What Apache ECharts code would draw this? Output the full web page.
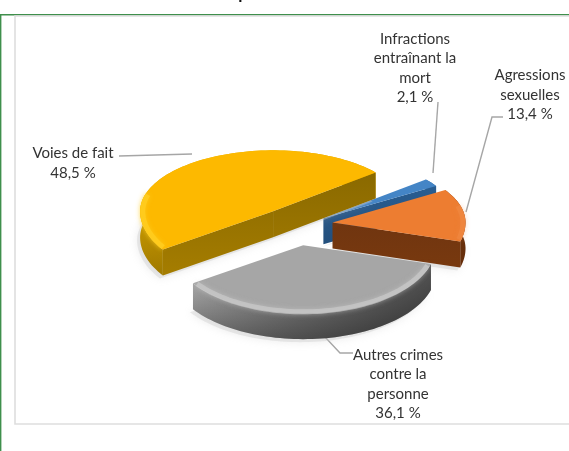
<!DOCTYPE html>
<html><head><meta charset="utf-8">
<style>html,body{margin:0;padding:0;background:#fff}#c{width:569px;height:451px;filter:blur(0.5px)}</style>
<script src="https://cdn.jsdelivr.net/npm/echarts@6/dist/echarts.min.js"></script>
</head><body><div id="c"></div>
<script>
const categories = ['Voies de fait', 'Autres crimes\ncontre la\npersonne', 'Agressions\nsexuelles', 'Infractions\nentraînant la\nmort'];
const values = [48.5, 36.1, 13.4, 2.1];

const center = [295, 224], RX = 133, RB = 61, RF = 68, EXPLODE = 0.3, DEPTH = 26, START = 39.6;
const total = values.reduce((a, b) => a + b, 0);
const zOrder = [3, 4, 2, 1];
const nudges = [[2, 2], [2, 1], [-2, 1], [-4, 5]];
const labelPos = [[73, 163], [398, 384], [530, 95], [415, 68]];
const looks = [
  {top:'#fdb900', edge:'rgba(255,204,30,0.9)', wallTop:'#f5bb00', wallBot:'#a07a00', straight:['#8a6900','#a57d00'], shade:0.12},
  {top:'#a6a6a6', edge:'rgba(200,200,200,0.75)', wallTop:'#bcbcbc', wallBot:'#666666', straight:['#777','#555'], shade:0.55},
  {top:'#ed7d31', edge:'rgba(240,136,66,0.6)', wallTop:'#7e3c12', wallBot:'#6d300a', straight:['#6a3210','#78390f'], shade:0.1},
  {top:'#4485c6', edge:'rgba(85,150,212,0.6)', wallTop:'#2e679f', wallBot:'#234f7c', straight:['#2a5f94','#234f7c'], shade:0}
];
const rad = d => d * Math.PI / 180;
function ell(c, t, k) {
  const s = Math.sin(rad(t));
  return [c[0] + RX * (k||1) * Math.cos(rad(t)), c[1] - (s > 0 ? RB : RF) * (k||1) * s];
}
function arc(c, a, b, k) {
  const pts = [], n = Math.max(3, Math.ceil(Math.abs(b - a) / 2));
  for (let i = 0; i <= n; i++) pts.push(ell(c, a + (b - a) * i / n, k));
  return pts;
}
function renderSlice(params, api) {
  const i = params.dataIndex, L = looks[i], z = zOrder[i] * 10;
  let before = 0; for (let j = 0; j < i; j++) before += values[j];
  const a = START + before / total * 360, b = a + api.value(1) / total * 360, mid = (a + b) / 2;
  const off = ell([0, 0], mid, EXPLODE);
  const base = api.coord([center[0] + off[0] + nudges[i][0], center[1] + off[1] + nudges[i][1]]);
  const down = p => [p[0], p[1] + DEPTH];
  const outer = arc(base, a, b);
  const kids = [];
  const poly = (points, fill, zz, extra) => kids.push(Object.assign({type:'polygon', shape:{points}, style:{fill}, z2:z + zz, silent:true}, extra||{}));
  const vert = (c0, c1) => new echarts.graphic.LinearGradient(0, 0, 0, 1, [{offset:0,color:c0},{offset:1,color:c1}]);
  poly(outer.concat([base]).map(p => [p[0] - 3, p[1] + DEPTH + 3]), 'rgba(200,200,200,0.4)', -5,
       {style:{fill:'rgba(205,205,205,0.4)', shadowBlur:9, shadowColor:'rgba(170,170,170,0.55)'}});
  const wall = outer.concat(outer.slice().reverse().map(down));
  poly(wall, vert(L.wallTop, L.wallBot), 1);
  if (L.shade) poly(wall, new echarts.graphic.LinearGradient(0, 0, 1, 0, [{offset:0,color:'rgba(0,0,0,0)'},{offset:1,color:'rgba(0,0,0,'+L.shade+')'}]), 2);
  const p0 = outer[0], p1 = outer[outer.length - 1];
  const yMin = Math.min(p0[1], p1[1], base[1]), yMax = Math.max(p0[1], p1[1], base[1]) + DEPTH;
  const straightFill = new echarts.graphic.LinearGradient(0, yMin, 0, yMax, [{offset:0,color:L.straight[0]},{offset:1,color:L.straight[1]}], true);
  const inside = ell(base, mid, 0.5);
  [p0, p1].forEach(p => {
    const lineY = base[1] + (p[1] - base[1]) * (inside[0] - base[0]) / (p[0] - base[0]);
    if (inside[1] < lineY) poly([base, p, down(p), down(base)], straightFill, 3);
  });
  poly(outer.concat([base]), L.top, 4);
  const n = Math.ceil((b - a) / 2), bevel = [];
  for (let t = 0; t <= n; t++) {
    const th = a + 1.5 + (b - a - 3) * t / n;
    if (Math.sin(rad(th)) < 0.3) bevel.push(ell(base, th, 0.98));
  }
  if (bevel.length > 1) kids.push({type:'polyline', shape:{points:bevel}, style:{fill:null, stroke:L.edge, lineWidth:5, shadowBlur:5, shadowColor:L.edge}, z2:z + 5, silent:true});
  return {type:'group', children:kids};
}
const txt = (t, x, y, extra) => ({type:'text', x, y, silent:true, style:Object.assign({text:t, fill:'#333333', font:'15px Lato', align:'center', verticalAlign:'middle', lineHeight:19.5}, extra||{})});
const line = pts => ({type:'polyline', silent:true, shape:{points:pts}, style:{fill:null, stroke:'#a6a6a6', lineWidth:1.4}});
const labels = categories.map((c, i) => txt(c + '\n' + String(values[i]).replace('.', ',') + ' %', labelPos[i][0], labelPos[i][1]));
const chart = echarts.init(document.getElementById('c'));
chart.setOption({
  animation:false,
  backgroundColor:'#fff',
  grid:{left:0, right:0, top:0, bottom:0},
  xAxis:{type:'value', min:0, max:569, show:false},
  yAxis:{type:'value', min:0, max:451, inverse:true, show:false},
  series:[{type:'custom', coordinateSystem:'cartesian2d', clip:false, silent:true,
    renderItem:renderSlice, data:values.map((v, i) => [i, v]), encode:{x:0, y:1}}],
  graphic:{elements:[
    {type:'rect', silent:true, shape:{x:0, y:14, width:569, height:1.4}, style:{fill:'#3f8f4c'}},
    {type:'rect', silent:true, shape:{x:0, y:14, width:1.4, height:437}, style:{fill:'#3f8f4c'}},
    {type:'polyline', silent:true, shape:{points:[[569,424],[15,424],[15,16],[569,16]]}, style:{fill:null, stroke:'#dedede', lineWidth:1.6}},
    txt('p', 243, -6, {font:'bold 17px Lato', fill:'#111'}),
    line([[119,156],[192,154]]),
    line([[438,102],[433,173]]),
    line([[503,117],[492,117],[466,212]]),
    line([[353,353],[340,353],[325,337]])
  ].concat(labels)}
});
</script></body></html>
